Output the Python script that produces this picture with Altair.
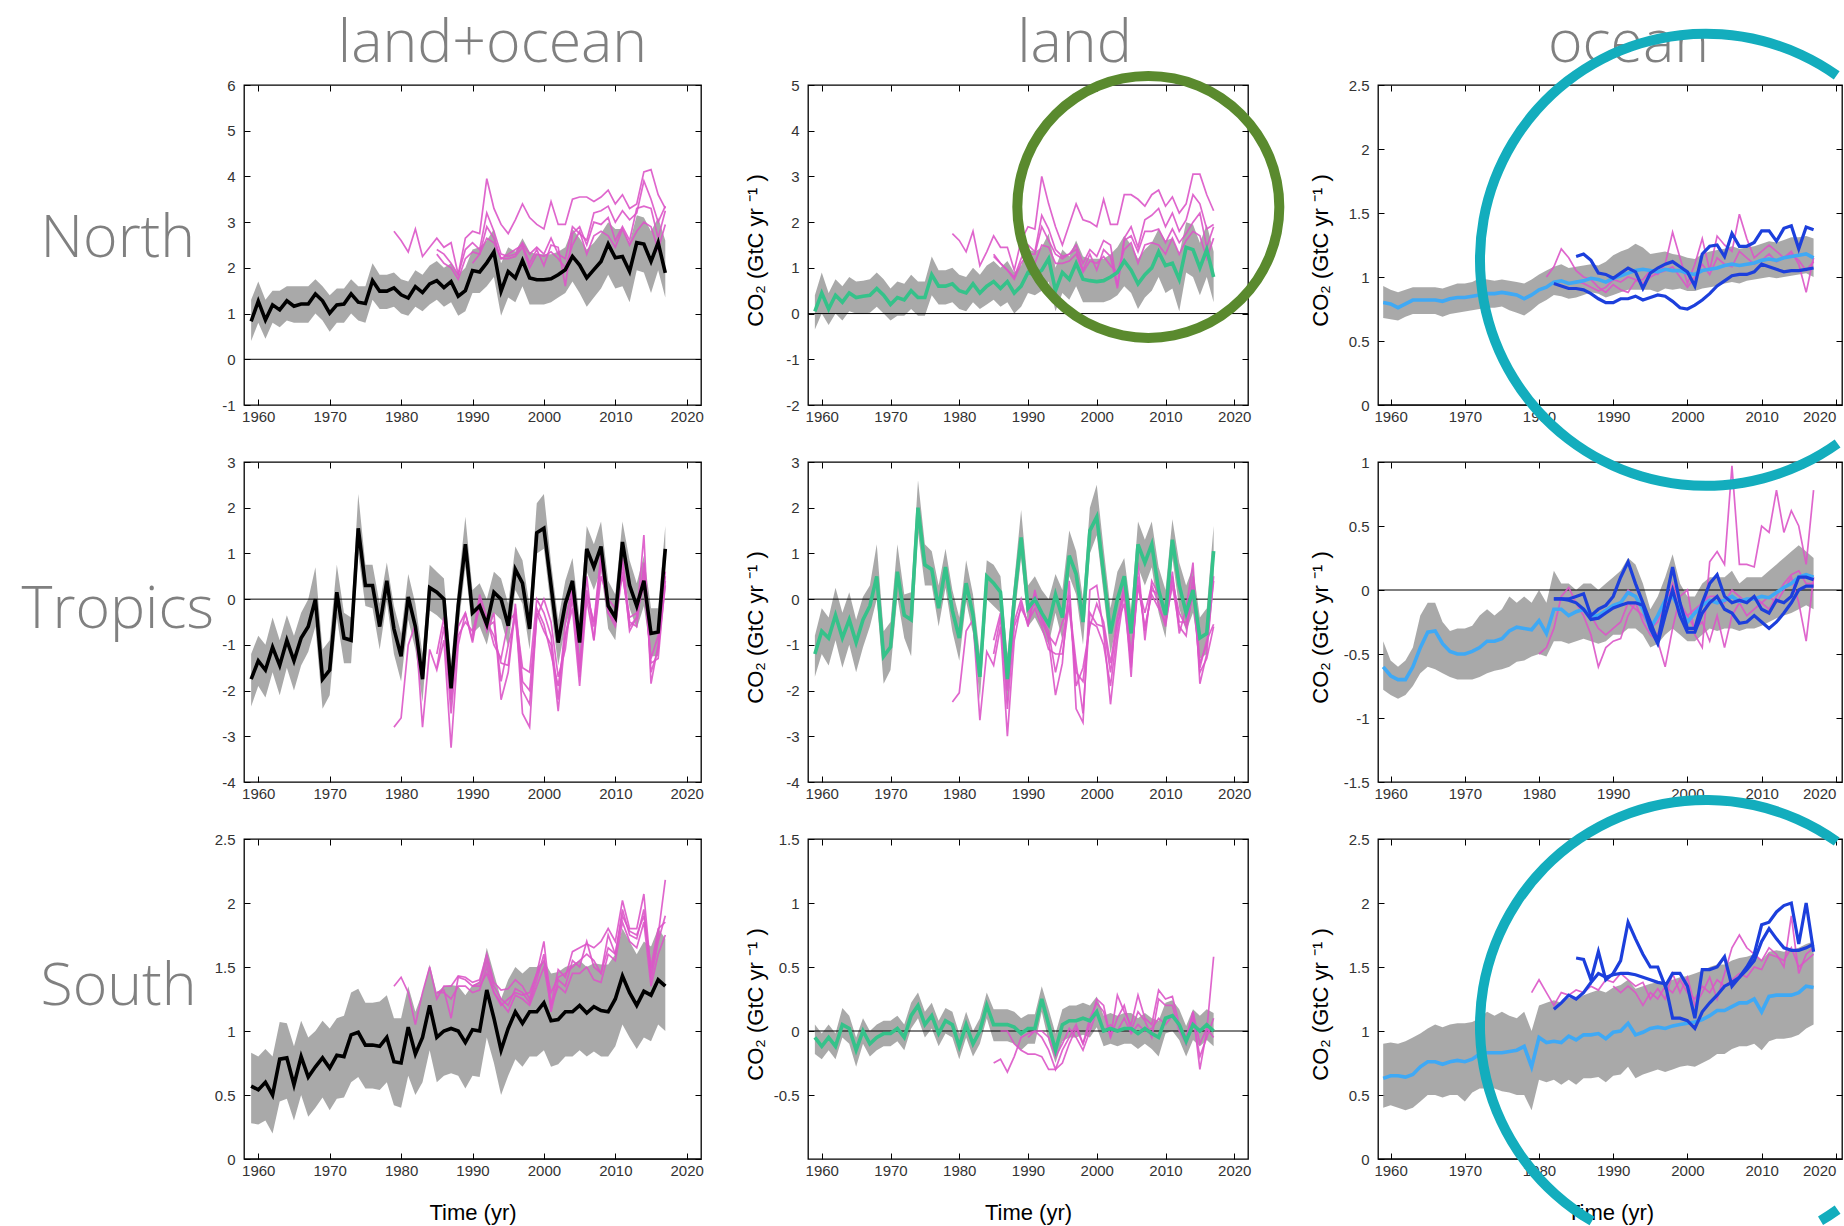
import altair as alt
import pandas as pd

# ---------------- data (GtC/yr), years 1959-2017 ----------------
YEARS_START = 1959
X_TICKS = [1960, 1970, 1980, 1990, 2000, 2010, 2020]
COL_TITLES = ["land+ocean", "land", "ocean"]
ROW_LABELS = ["North", "Tropics", "South"]
Y_TITLE = "CO\u2082  (GtC yr \u207b\u00b9 )"

# ---- North, land+ocean
N_LO_MAIN = [0.83,1.27,0.86,1.19,1.08,1.28,1.16,1.21,1.21,1.43, 1.28,1.01,1.19,1.21,1.43,1.25,1.22,1.72,1.49,1.49,
             1.56,1.41,1.34,1.59,1.46,1.65,1.72,1.57,1.70,1.38, 1.50,1.94,1.91,2.11,2.35,1.49,1.92,1.78,2.16,1.78,
             1.74,1.74,1.76,1.85,1.96,2.25,2.06,1.78,1.96,2.14, 2.52,2.22,2.25,1.92,2.55,2.52,2.14,2.55,1.89]
N_LO_HI = [1.3,1.7,1.3,1.5,1.5,1.6,1.6,1.6,1.6,1.75, 1.6,1.4,1.55,1.55,1.75,1.6,1.6,2.1,1.85,1.85,
           1.9,1.75,1.7,1.95,1.85,2.05,2.15,2.0,2.1,1.85, 2.0,2.4,2.45,2.6,2.85,2.1,2.45,2.35,2.65,2.35,
           2.3,2.3,2.3,2.35,2.45,2.85,2.65,2.4,2.55,2.75, 3.0,2.85,2.85,2.55,3.15,3.1,2.8,3.1,2.6]
N_LO_LO = [0.4,0.8,0.45,0.8,0.7,0.85,0.8,0.8,0.8,1.0, 0.85,0.6,0.8,0.8,1.0,0.85,0.8,1.3,1.1,1.1,
           1.15,1.0,0.95,1.15,1.05,1.2,1.3,1.15,1.25,0.95, 1.05,1.45,1.45,1.6,1.8,0.95,1.35,1.25,1.6,1.2,
           1.2,1.2,1.25,1.35,1.45,1.7,1.45,1.15,1.35,1.55, 1.85,1.55,1.6,1.25,1.95,1.9,1.45,1.95,1.35]
N_LO_MAG_START = [1979, 1985, 1985, 1990]
N_LO_MAG = [
    [2.8,2.6,2.35,2.85,2.25,2.45,2.65,2.45,2.55,1.85, 2.65,2.8,2.75,3.95,3.3,2.95,2.75,3.05,3.4,3.1,
     2.95,2.85,3.45,2.95,2.95,3.5,3.55,3.55,3.45,3.55, 3.7,3.4,3.6,3.3,3.4,4.1,4.15,3.6,3.3],
    [2.4,2.3,2.1,1.85,2.4,2.55,2.4,3.2,2.8,2.3, 2.25,2.3,2.55,2.3,2.45,2.3,2.65,2.3,2.2,2.9,
     2.75,2.6,3.2,3.25,3.35,3.0,3.25,3.05,3.2,3.9, 3.5,3.0,3.35],
    [2.3,2.1,2.0,1.75,2.2,2.35,2.3,2.9,2.65,2.2, 2.3,2.4,2.5,2.1,2.4,2.05,2.5,2.45,1.6,2.75,
     2.9,2.5,3.0,2.95,3.1,2.6,2.9,2.6,3.3,3.35, 3.3,2.65,3.25],
    [2.1,2.3,2.65,2.55,2.2,2.2,2.25,2.45,2.0,2.3, 2.25,2.35,2.2,2.0,2.5,2.8,2.3,2.7,2.8,2.7,
     2.45,2.85,2.5,2.8,3.0,2.9,2.4,2.95],
]

# ---- North, land
N_L_MAIN = [0.05,0.45,0.1,0.4,0.25,0.45,0.35,0.38,0.4,0.55, 0.4,0.2,0.35,0.3,0.5,0.35,0.35,0.85,0.6,0.6,
            0.65,0.5,0.45,0.65,0.45,0.6,0.7,0.55,0.7,0.45, 0.6,0.9,0.85,0.95,1.2,0.5,0.9,0.75,1.1,0.75,
            0.72,0.7,0.72,0.8,0.9,1.15,0.95,0.65,0.85,1.0, 1.35,1.05,1.1,0.75,1.45,1.4,1.0,1.4,0.8]
N_L_HI = [0.4,0.9,0.45,0.75,0.6,0.8,0.7,0.72,0.75,0.9, 0.75,0.55,0.7,0.65,0.85,0.7,0.7,1.25,0.95,0.95,
          1.0,0.85,0.8,1.0,0.85,1.05,1.15,1.0,1.15,0.9, 1.05,1.4,1.35,1.45,1.75,1.0,1.4,1.25,1.6,1.25,
          1.2,1.2,1.2,1.3,1.45,1.7,1.5,1.2,1.4,1.55, 1.85,1.6,1.65,1.3,2.0,1.95,1.55,1.95,1.35]
N_L_LO = [-0.35,0.0,-0.25,0.0,-0.15,0.05,0.0,0.0,0.02,0.15, 0.0,-0.15,-0.05,-0.05,0.1,-0.05,-0.05,0.4,0.2,0.2,
          0.25,0.1,0.05,0.25,0.1,0.2,0.3,0.15,0.25,0.0, 0.15,0.45,0.4,0.5,0.7,0.05,0.45,0.3,0.6,0.25,
          0.25,0.25,0.25,0.3,0.4,0.6,0.45,0.1,0.35,0.5, 0.8,0.45,0.55,0.05,0.9,0.8,0.4,0.8,0.25]
N_L_MAG_START = [1979, 1985, 1985, 1990]
N_L_MAG = [
    [1.75,1.6,1.35,1.8,1.05,1.35,1.7,1.45,1.45,0.95, 1.6,1.9,1.85,3.0,2.4,1.9,1.5,1.95,2.4,2.05,
     2.0,1.9,2.5,1.95,1.95,2.6,2.6,2.5,2.35,2.6, 2.7,2.35,2.55,2.2,2.4,3.05,3.05,2.6,2.25],
    [1.3,1.1,0.95,0.8,1.2,1.5,1.35,2.15,1.85,1.4, 1.25,1.3,1.5,1.1,1.4,1.25,1.6,1.5,0.6,1.65,
     1.9,1.45,2.05,2.15,2.3,1.9,2.2,1.8,2.05,2.6, 2.4,1.85,1.95],
    [1.25,1.1,0.95,0.75,1.1,1.3,1.3,1.9,1.6,1.3, 1.2,1.3,1.4,0.95,1.3,0.95,1.4,1.25,0.55,1.6,
     1.7,1.35,1.8,1.8,1.85,1.55,1.85,1.55,1.75,2.0, 2.2,1.45,1.9],
    [1.0,1.1,1.5,1.45,1.1,1.1,1.15,1.3,0.9,1.15, 1.1,1.25,1.05,0.9,1.4,1.55,1.1,1.5,1.55,1.5,
     1.3,1.65,1.3,1.6,1.8,1.7,1.2,1.65],
]

# ---- North, ocean
N_O_MAIN = [0.8,0.79,0.76,0.79,0.82,0.82,0.82,0.82,0.81,0.83, 0.84,0.84,0.85,0.86,0.87,0.87,0.88,0.87,0.86,0.83,
            0.86,0.90,0.92,0.96,0.97,0.95,0.96,0.97,0.99,0.98, 0.96,0.99,1.01,1.03,1.05,1.06,1.05,1.04,1.06,1.05,
            1.05,1.03,1.02,1.05,1.06,1.07,1.09,1.10,1.09,1.10, 1.11,1.13,1.14,1.13,1.15,1.16,1.17,1.18,1.15]
N_O_HI = [0.93,0.9,0.88,0.9,0.92,0.92,0.92,0.92,0.91,0.93, 0.95,0.95,0.96,0.99,0.98,0.97,0.98,0.97,0.96,0.95,
          0.98,1.02,1.05,1.08,1.1,1.07,1.08,1.09,1.1,1.09, 1.12,1.17,1.2,1.22,1.26,1.23,1.18,1.19,1.2,1.18,
          1.17,1.15,1.14,1.18,1.2,1.21,1.22,1.24,1.22,1.23, 1.24,1.26,1.28,1.27,1.29,1.31,1.31,1.32,1.3]
N_O_LO = [0.68,0.67,0.66,0.69,0.71,0.71,0.71,0.71,0.69,0.71, 0.72,0.73,0.74,0.75,0.76,0.76,0.77,0.74,0.72,0.7,
          0.74,0.79,0.82,0.86,0.85,0.83,0.84,0.86,0.88,0.87, 0.84,0.86,0.88,0.9,0.9,0.9,0.9,0.88,0.91,0.9,
          0.91,0.89,0.89,0.91,0.92,0.93,0.95,0.96,0.95,0.97, 0.98,0.99,1.0,0.99,1.0,1.01,1.02,1.03,1.0]
N_O_MAG_START = [1981, 1985]
N_O_MAG = [
    [1.0,1.08,1.22,1.15,1.05,1.0,0.98,0.92,0.88,0.94, 0.9,0.88,0.97,0.98,1.05,1.02,1.1,1.35,1.15,0.95,
     1.1,1.3,1.05,1.32,1.25,1.2,1.49,1.3,1.15,1.2, 1.25,1.2,1.15,1.2,1.1,0.88,1.15],
    [0.97,0.95,0.92,0.89,0.92,0.98,0.96,1.0,0.98,0.95, 1.0,1.03,1.05,1.08,1.0,0.92,1.0,1.1,1.02,1.15,
     1.1,1.08,1.2,1.15,1.1,1.13,1.18,1.12,1.15,1.18, 1.13,1.05,1.12],
]
N_O_BLUE_START = [1985, 1982]
N_O_BLUE = [
    [1.16,1.18,1.13,1.03,1.02,0.99,1.03,1.07,1.04,0.91, 1.03,1.07,1.1,1.12,1.08,1.04,0.93,1.18,1.24,1.25,
     1.16,1.34,1.24,1.24,1.27,1.36,1.36,1.28,1.38,1.4, 1.22,1.39,1.37],
    [0.95,0.93,0.91,0.91,0.9,0.87,0.83,0.8,0.8,0.83, 0.83,0.85,0.82,0.84,0.86,0.85,0.81,0.76,0.75,0.78,
     0.82,0.87,0.93,0.97,1.01,1.02,1.02,1.04,1.1,1.08, 1.06,1.04,1.05,1.05,1.06,1.07],
]

# ---- Tropics, land+ocean
T_LO_MAIN = [-1.75,-1.35,-1.55,-1.05,-1.45,-0.9,-1.35,-0.85,-0.6,0.0, -1.75,-1.55,0.15,-0.85,-0.9,1.55,0.3,0.3,-0.6,0.4,
             -0.65,-1.25,0.05,-0.6,-1.75,0.25,0.15,0.0,-1.95,-0.15, 1.2,-0.3,-0.15,-0.55,0.15,0.0,-0.58,0.65,0.35,-0.65,
             1.45,1.55,0.3,-0.95,-0.1,0.4,-0.95,1.1,0.7,1.15, -0.15,-0.4,1.25,0.3,-0.15,0.4,-0.75,-0.72,1.1]
T_LO_HI = [-1.2,-0.8,-1.0,-0.4,-0.9,-0.35,-0.8,-0.3,0.0,0.7, -1.1,-0.9,0.75,-0.3,-0.4,2.3,0.75,0.75,-0.1,0.8,
           -0.15,-0.75,0.55,-0.1,-1.2,0.75,0.6,0.45,-1.4,0.3, 1.8,0.2,0.35,0.0,0.6,0.45,-0.1,1.15,0.85,-0.15,
           2.1,2.3,0.8,-0.45,0.4,0.9,-0.4,1.6,1.2,1.7, 0.4,0.1,1.7,0.85,0.35,0.95,-0.2,-0.2,1.6]
T_LO_LO = [-2.35,-1.9,-2.15,-1.6,-2.1,-1.5,-2.0,-1.45,-1.15,-0.6, -2.4,-2.1,-0.4,-1.4,-1.4,1.0,-0.15,-0.2,-1.1,-0.05,
           -1.2,-1.8,-0.45,-1.1,-2.25,-0.25,-0.35,-0.5,-2.45,-0.65, 0.7,-0.75,-0.6,-1.0,-0.3,-0.45,-1.05,0.2,-0.1,-1.1,
           1.0,1.1,-0.2,-1.45,-0.6,-0.1,-1.45,0.6,0.2,0.65, -0.65,-0.9,0.75,-0.2,-0.65,-0.15,-1.25,-1.25,0.6]
T_LO_MAG_START = [1979, 1985, 1985, 1990]
T_LO_MAG = [
    [-2.8,-2.6,-1.0,-0.55,-2.8,-1.1,-1.55,-0.9,-3.25,-1.0, -0.3,-0.95,-0.1,-0.7,-0.3,-2.2,-1.6,-0.2,-2.5,-2.8,
     -0.3,-0.7,-1.0,-2.45,-0.8,-0.2,-1.9,0.0,-0.9,0.8, -0.3,-0.5,0.8,-0.7,-0.4,1.4,-1.85,-1.0,0.5],
    [-1.5,-0.6,-2.5,-0.8,-0.5,-0.7,-0.2,-0.5,-0.8,-1.4, -1.45,-0.1,-1.8,-2.0,-0.2,-0.55,-1.2,-1.9,-0.8,0.0,
     -1.6,0.2,-0.6,0.9,-0.1,-0.4,0.9,-0.5,-0.6,0.8, -1.6,-1.1,0.3],
    [-1.2,-0.4,-2.2,-0.6,-0.3,-0.9,0.1,-0.4,-1.0,-1.3, -0.5,-0.3,-1.5,-1.6,0.0,-0.3,-0.8,-2.2,-0.5,0.3,
     -1.7,0.5,-0.9,0.5,0.0,-0.2,0.5,-0.4,-0.3,0.3, -1.3,-0.8,0.6],
    [-0.8,0.0,-0.6,-0.5,-1.8,-1.0,-0.4,-2.0,-2.3,-0.4, 0.0,-0.5,-1.7,-1.1,0.2,-1.4,0.1,-0.5,1.0,-0.3,
     -0.6,0.6,-0.6,-0.4,0.6,-1.4,-1.3,0.4],
]

# ---- Tropics, land
T_L_MAIN = [-1.2,-0.7,-0.85,-0.35,-0.85,-0.45,-0.95,-0.45,-0.15,0.5, -1.25,-1.05,0.6,-0.35,-0.45,2.0,0.75,0.65,-0.2,0.7,
            -0.25,-0.85,0.35,-0.35,-1.7,0.5,0.35,0.15,-1.75,0.0, 1.35,-0.2,0.0,-0.3,-0.55,0.1,-0.4,0.95,0.55,-0.5,
            1.5,1.8,0.55,-0.75,0.0,0.5,-0.75,1.2,0.8,1.2, 0.2,-0.35,1.3,0.3,-0.3,0.2,-0.85,-0.75,1.05]
T_L_HI = [-0.8,-0.2,-0.4,0.25,-0.3,0.15,-0.45,0.05,0.3,1.2, -0.7,-0.5,1.2,0.1,0.15,2.6,1.2,1.05,0.3,1.1,
          0.2,-0.4,0.85,0.1,-1.2,0.85,0.75,0.5,-1.2,0.4, 1.95,0.3,0.5,0.2,0.0,0.55,0.2,1.5,1.05,0.0,
          2.0,2.5,1.1,-0.2,0.6,0.9,-0.25,1.7,1.3,1.7, 0.7,0.2,1.75,0.8,0.3,0.7,-0.4,-0.2,1.6]
T_L_LO = [-1.7,-1.2,-1.45,-0.9,-1.5,-1.0,-1.6,-1.05,-0.6,0.0, -1.85,-1.55,0.05,-0.85,-1.25,1.45,0.3,0.3,-0.6,0.25,
          -0.7,-1.35,-0.05,-0.75,-2.2,0.0,-0.15,-0.3,-2.35,-0.45, 0.9,-0.6,-0.4,-0.7,-1.0,-0.3,-0.9,0.5,0.1,-1.0,
          1.0,1.4,0.1,-1.2,-0.45,0.05,-1.2,0.7,0.3,0.7, -0.3,-0.85,0.9,-0.2,-0.7,-0.3,-1.3,-1.2,0.5]
T_L_MAG_START = [1979, 1985, 1985, 1990]
T_L_MAG = [
    [-2.25,-2.05,-0.7,-0.45,-2.65,-1.15,-1.45,-0.6,-3.0,-0.9, -0.1,-0.55,0.1,-0.35,-0.9,-2.1,-1.4,0.4,-2.4,-2.7,
     0.2,0.3,-0.7,-2.3,-0.9,0.15,-1.7,0.8,-0.9,0.4, 0.1,-0.4,0.6,-0.75,-0.2,0.8,-1.85,-1.2,0.5],
    [-1.2,-0.4,-2.4,-0.6,-0.2,-0.5,-0.2,-0.6,-1.1,-1.2, -1.2,-0.1,-1.4,-2.5,-0.3,-0.55,-0.6,-1.6,-0.5,-0.1,
     -1.4,0.3,-0.6,0.1,-0.2,-0.5,0.3,-0.6,-0.8,0.3, -1.6,-1.3,-0.6],
    [-0.9,-0.3,-2.0,-0.5,0.0,-0.6,0.2,-0.5,-0.8,-1.0, -0.5,-0.2,-1.6,-1.8,-0.5,-0.6,-1.0,-1.9,-0.7,0.4,
     -1.5,0.5,-0.7,0.2,0.1,-0.3,0.5,-0.5,-0.5,0.5, -1.4,-1.0,0.4],
    [-0.3,-0.1,-0.4,-0.7,-1.6,-0.9,0.1,-1.9,-1.5,-0.6, -0.1,-0.5,-1.4,-0.4,0.2,-1.2,0.3,-0.3,0.3,-0.1,
     -0.6,0.4,-0.3,-0.6,0.1,-1.5,-0.9,-0.55],
]

# ---- Tropics, ocean
T_O_MAIN = [-0.6,-0.67,-0.7,-0.7,-0.6,-0.45,-0.33,-0.32,-0.42,-0.48, -0.5,-0.5,-0.48,-0.45,-0.4,-0.4,-0.38,-0.32,-0.29,-0.3,
            -0.31,-0.24,-0.34,-0.15,-0.15,-0.2,-0.17,-0.15,-0.2,-0.2, -0.16,-0.12,-0.1,-0.02,-0.05,-0.15,-0.3,-0.2,-0.08,-0.05,
            -0.15,-0.25,-0.18,-0.12,-0.08,-0.1,-0.08,-0.05,-0.09,-0.07, -0.07,-0.05,-0.06,-0.02,0.02,0.05,0.1,0.12,0.1]
T_O_HI = [-0.4,-0.55,-0.6,-0.55,-0.45,-0.2,-0.1,-0.1,-0.25,-0.32, -0.3,-0.3,-0.28,-0.2,-0.15,-0.2,-0.15,-0.05,-0.1,-0.05,
          -0.1,0.0,-0.1,0.15,0.05,0.05,0.0,0.05,0.05,0.0, 0.05,0.1,0.15,0.25,0.2,0.05,-0.15,-0.05,0.1,0.28,
          0.05,-0.05,-0.05,0.05,0.1,0.1,0.1,0.15,0.05,0.1, 0.1,0.1,0.15,0.2,0.25,0.3,0.35,0.3,0.25]
T_O_LO = [-0.78,-0.82,-0.85,-0.82,-0.75,-0.65,-0.6,-0.62,-0.65,-0.68, -0.7,-0.7,-0.7,-0.68,-0.65,-0.63,-0.62,-0.6,-0.56,-0.55,
          -0.52,-0.5,-0.52,-0.4,-0.4,-0.42,-0.4,-0.38,-0.4,-0.42, -0.4,-0.35,-0.35,-0.3,-0.3,-0.35,-0.45,-0.42,-0.35,-0.3,
          -0.35,-0.4,-0.4,-0.35,-0.3,-0.32,-0.3,-0.3,-0.32,-0.3, -0.3,-0.28,-0.25,-0.22,-0.2,-0.18,-0.15,-0.12,-0.15]
T_O_MAG_START = [1980, 1985, 1990]
T_O_MAG = [
    [-0.5,-0.45,-0.3,-0.05,0.02,-0.1,-0.2,-0.35,-0.6,-0.45, -0.4,-0.38,-0.2,-0.1,-0.25,-0.35,-0.4,-0.6,-0.3,-0.05,
     0.0,-0.35,-0.45,0.22,0.3,0.2,0.97,0.2,0.2,0.18, 0.5,0.45,0.78,0.45,0.62,0.5,0.2,0.78],
    [-0.1,-0.15,-0.2,-0.3,-0.35,-0.3,-0.25,-0.1,-0.15,-0.2, -0.3,-0.35,-0.15,0.05,-0.1,-0.2,-0.3,-0.25,-0.4,-0.2,
     -0.45,-0.2,-0.1,-0.2,-0.15,-0.1,-0.05,-0.1,0.0,0.1, -0.1,-0.4,0.1],
    [-0.15,-0.1,0.0,-0.05,-0.15,-0.3,-0.25,-0.1,0.0,-0.15, -0.2,-0.15,-0.1,-0.05,-0.05,-0.1,0.0,-0.05,-0.1,-0.05,
     -0.1,-0.15,-0.05,0.05,0.12,0.15,0.05,0.05],
]
T_O_BLUE_START = [1982, 1982]
T_O_BLUE = [
    [-0.07,-0.07,-0.07,-0.05,-0.03,-0.2,-0.15,-0.12,-0.05,0.1, 0.22,0.05,-0.1,-0.25,-0.4,-0.1,0.18,-0.1,-0.3,-0.3,
     -0.1,0.05,0.12,-0.05,-0.1,-0.08,-0.1,-0.05,-0.15,-0.18, -0.08,-0.1,-0.05,0.1,0.1,0.08],
    [-0.07,-0.07,-0.08,-0.1,-0.15,-0.23,-0.22,-0.18,-0.14,-0.12, -0.1,-0.1,-0.12,-0.3,-0.42,-0.2,0.0,-0.2,-0.33,-0.33,
     -0.18,-0.1,-0.05,-0.15,-0.18,-0.26,-0.25,-0.2,-0.25,-0.3, -0.25,-0.18,-0.1,0.0,0.03,0.03],
]

# ---- South, land+ocean
S_LO_MAIN = [0.57,0.54,0.6,0.5,0.78,0.79,0.58,0.8,0.64,0.72, 0.79,0.71,0.81,0.8,0.97,0.99,0.89,0.89,0.88,0.95,
             0.76,0.75,1.03,0.82,0.95,1.2,0.95,1.0,1.02,1.0, 0.91,1.01,1.0,1.32,1.1,0.85,1.02,1.15,1.06,1.15,
             1.15,1.22,1.08,1.09,1.15,1.15,1.2,1.14,1.19,1.16, 1.15,1.25,1.43,1.3,1.2,1.31,1.28,1.4,1.35]
S_LO_HI = [0.83,0.8,0.86,0.8,1.07,1.06,0.88,1.08,0.95,1.0, 1.08,1.02,1.1,1.12,1.3,1.33,1.22,1.22,1.23,1.28,
           1.1,1.1,1.35,1.15,1.3,1.52,1.3,1.35,1.36,1.35, 1.28,1.36,1.38,1.65,1.45,1.25,1.4,1.5,1.45,1.5,
           1.5,1.55,1.45,1.46,1.5,1.52,1.55,1.5,1.53,1.52, 1.52,1.6,1.8,1.7,1.6,1.7,1.66,1.8,1.72]
S_LO_LO = [0.28,0.27,0.3,0.2,0.45,0.47,0.3,0.5,0.33,0.4, 0.48,0.38,0.47,0.48,0.6,0.64,0.55,0.55,0.54,0.6,
           0.42,0.4,0.65,0.5,0.6,0.85,0.6,0.65,0.67,0.65, 0.55,0.65,0.64,0.95,0.75,0.5,0.65,0.78,0.72,0.8,
           0.8,0.85,0.72,0.74,0.8,0.8,0.85,0.8,0.84,0.8, 0.8,0.88,1.05,0.95,0.86,0.95,0.92,1.05,1.0]
S_LO_MAG_START = [1979, 1985, 1985, 1990]
S_LO_MAG = [
    [1.35,1.42,1.3,1.05,1.3,1.5,1.25,1.35,1.35,1.43, 1.42,1.38,1.4,1.6,1.38,1.32,1.33,1.4,1.35,1.25,
     1.45,1.7,1.2,1.48,1.42,1.62,1.65,1.68,1.65,1.7, 1.8,1.7,2.02,1.8,1.8,2.07,1.45,1.75,2.18],
    [1.3,1.32,1.1,1.42,1.4,1.35,1.38,1.55,1.35,1.25, 1.2,1.33,1.3,1.22,1.4,1.6,1.15,1.4,1.35,1.55,
     1.5,1.7,1.5,1.45,1.75,1.6,1.95,1.75,1.72,1.95, 1.4,1.7,1.9],
    [1.3,1.3,1.25,1.35,1.35,1.3,1.32,1.5,1.3,1.22, 1.15,1.28,1.25,1.2,1.35,1.5,1.2,1.35,1.3,1.45,
     1.45,1.5,1.4,1.38,1.6,1.55,1.85,1.7,1.65,1.85, 1.35,1.6,1.75],
    [1.35,1.35,1.45,1.3,1.2,1.25,1.3,1.28,1.3,1.45, 1.55,1.3,1.42,1.45,1.5,1.55,1.6,1.55,1.45,1.65,
     1.6,1.9,1.78,1.75,1.9,1.5,1.8,1.85],
]

# ---- South, land
S_L_MAIN = [-0.05,-0.12,-0.05,-0.12,0.05,0.02,-0.15,0.0,-0.1,-0.05, -0.02,-0.02,0.02,-0.05,0.12,0.2,0.05,0.12,-0.02,0.08,
            0.05,-0.12,0.05,-0.1,0.0,0.2,0.05,0.05,0.05,0.03, -0.02,0.02,0.02,0.25,0.05,-0.15,0.05,0.08,0.08,0.1,
            0.08,0.15,0.0,0.02,0.0,0.02,0.02,-0.02,0.02,-0.02, -0.05,0.1,0.12,0.05,-0.08,0.05,0.0,0.05,0.0]
S_L_HI = [0.05,-0.02,0.05,-0.02,0.18,0.12,-0.05,0.1,0.0,0.05, 0.08,0.08,0.12,0.05,0.22,0.3,0.15,0.22,0.08,0.18,
          0.15,-0.02,0.15,0.0,0.1,0.3,0.17,0.17,0.17,0.15, 0.1,0.13,0.13,0.35,0.17,-0.02,0.17,0.2,0.2,0.22,
          0.2,0.27,0.12,0.14,0.12,0.14,0.14,0.1,0.14,0.1, 0.08,0.22,0.24,0.17,0.04,0.17,0.12,0.17,0.14]
S_L_LO = [-0.18,-0.22,-0.15,-0.22,-0.05,-0.1,-0.28,-0.1,-0.2,-0.15, -0.12,-0.12,-0.08,-0.15,0.02,0.1,-0.05,0.02,-0.12,-0.02,
          -0.05,-0.22,-0.05,-0.2,-0.1,0.1,-0.08,-0.08,-0.08,-0.1, -0.15,-0.1,-0.1,0.15,-0.08,-0.25,-0.08,-0.05,-0.05,-0.03,
          -0.05,0.03,-0.12,-0.1,-0.12,-0.1,-0.1,-0.14,-0.1,-0.14, -0.2,-0.02,0.0,-0.07,-0.2,-0.07,-0.12,-0.07,-0.12]
S_L_MAG_START = [1985, 1986, 1990]
S_L_MAG = [
    [-0.25,-0.22,-0.32,-0.2,-0.05,-0.02,0.0,-0.05,-0.15,-0.3, -0.15,-0.05,0.05,-0.1,0.05,0.25,0.2,-0.05,0.28,0.15,
     0.05,0.28,0.1,0.05,0.32,0.25,0.27,0.05,-0.1,0.15, -0.3,0.0,0.58],
    [0.0,0.0,-0.1,-0.15,-0.18,-0.18,-0.2,-0.3,-0.3,-0.25, -0.1,0.02,-0.1,0.1,0.22,0.15,-0.05,0.1,0.2,0.0,
     0.15,0.08,-0.05,0.25,0.2,0.2,0.0,-0.1,0.1,-0.2, -0.05,0.1],
    [-0.05,0.0,0.0,-0.05,-0.2,-0.1,0.02,-0.05,-0.15,0.0, 0.15,0.0,0.05,0.0,0.1,-0.02,0.05,0.0,0.02,0.1,
     0.05,0.12,0.05,-0.05,0.15,-0.1,0.02,-0.05],
]

# ---- South, ocean
S_O_MAIN = [0.63,0.65,0.65,0.64,0.66,0.72,0.76,0.76,0.74,0.76, 0.77,0.76,0.78,0.82,0.83,0.83,0.83,0.84,0.85,0.88,
            0.72,0.95,0.91,0.92,0.91,0.96,0.93,0.97,0.97,0.98, 0.94,0.99,1.0,1.06,0.97,0.99,1.02,1.03,1.02,1.04,
            1.05,1.06,1.07,1.09,1.12,1.16,1.16,1.19,1.22,1.22, 1.25,1.15,1.27,1.28,1.28,1.28,1.3,1.35,1.34]
S_O_HI = [0.9,0.91,0.9,0.92,0.95,0.98,1.02,1.05,1.03,1.05, 1.06,1.06,1.07,1.1,1.15,1.12,1.15,1.12,1.1,1.15,
          1.0,1.2,1.22,1.24,1.22,1.26,1.25,1.28,1.3,1.32, 1.3,1.34,1.36,1.4,1.33,1.35,1.37,1.38,1.38,1.4,
          1.42,1.43,1.45,1.47,1.5,1.52,1.52,1.55,1.57,1.58, 1.6,1.55,1.62,1.63,1.62,1.63,1.65,1.68,1.7]
S_O_LO = [0.4,0.42,0.4,0.38,0.4,0.45,0.5,0.5,0.48,0.5, 0.5,0.45,0.52,0.55,0.55,0.55,0.53,0.52,0.5,0.5,
          0.38,0.62,0.6,0.62,0.58,0.62,0.58,0.63,0.63,0.64, 0.6,0.65,0.66,0.72,0.63,0.66,0.68,0.7,0.68,0.7,
          0.72,0.73,0.72,0.75,0.78,0.82,0.82,0.86,0.88,0.88, 0.9,0.85,0.92,0.94,0.94,0.95,0.97,1.02,1.05]
S_O_MAG_START = [1979, 1990]
S_O_MAG = [
    [1.3,1.4,1.3,1.2,1.3,1.28,1.32,1.3,1.35,1.32, 1.4,1.38,1.45,1.4,1.35,1.38,1.25,1.33,1.25,1.45,
     1.3,1.42,1.2,1.3,1.42,1.25,1.45,1.65,1.75,1.65, 1.6,1.55,1.65,1.6,1.5,1.9,1.45,1.6,1.65],
    [1.35,1.3,1.35,1.3,1.2,1.3,1.25,1.35,1.3,1.4, 1.3,1.25,1.35,1.3,1.4,1.35,1.4,1.45,1.42,1.5,
     1.48,1.6,1.58,1.55,1.65,1.5,1.55,1.6],
]
S_O_BLUE_START = [1985, 1982]
S_O_BLUE = [
    [1.57,1.56,1.4,1.62,1.4,1.45,1.55,1.85,1.72,1.6, 1.5,1.5,1.35,1.45,1.45,1.35,1.1,1.48,1.48,1.5,
     1.58,1.35,1.42,1.5,1.6,1.83,1.85,1.93,1.98,2.0, 1.68,2.0,1.62],
    [1.17,1.22,1.28,1.25,1.3,1.38,1.45,1.42,1.44,1.45, 1.45,1.44,1.42,1.4,1.38,1.37,1.1,1.1,1.08,1.02,
     1.15,1.22,1.28,1.35,1.38,1.42,1.48,1.55,1.7,1.8, 1.72,1.65,1.63,1.63,1.65,1.68],
]

# highlight rings (annotation): centre year / value in the host panel's data space
CIRCLE_YEAR = [2007.5, 2002.5, 2002.5]
CIRCLE_VALUE = [8.58, 2.58, 1.04]

# ---------------- styling ----------------
FONT = "Liberation Sans"
TITLE_FONT = "Open Sans"
TITLE_SIZE = 59
H = 320
WIDTHS = [457, 440, 464]
X_DOMAINS = [[1958, 2022], [1958, 2022], [1958.3, 2020.83]]
GAPS = [107, 130]
GRAY = "#9a9a9a"
MAGENTA = "#dc55c8"
DARKBLUE = "#1c3fdc"
COLORS = ["#000000", "#35c28a", "#3fa9f5"]
GREEN_RING = "#5a8a2e"
TEAL_RING = "#13adbd"

LABEL_EXPR = "datum.value < 0 ? '-' + format(-datum.value, '.1~f') : format(datum.value, '.1~f')"


def series_df(starts, lists, prefix):
    rows = []
    for k, (st, vals) in enumerate(zip(starts, lists)):
        for i, v in enumerate(vals):
            rows.append({"year": st + i, "value": v, "series": f"{prefix}{k}"})
    return pd.DataFrame(rows)


def panel(row, col, main, lo, hi, ydom, yticks, mag_starts, mags,
          blue_starts=None, blues=None, rings=None):
    W = WIDTHS[col]
    years = list(range(YEARS_START, YEARS_START + len(main)))
    xscale = alt.Scale(domain=X_DOMAINS[col], nice=False, zero=False)
    yscale = alt.Scale(domain=ydom, nice=False, zero=False)

    xaxis_kw = dict(values=X_TICKS, format="d", grid=True, gridDash=[6, H - 12, 6],
                    gridColor="black", gridWidth=1, ticks=False, tickSize=0, domain=False,
                    labelPadding=4, labelFontSize=15, labelFont=FONT, labelColor="#333",
                    labelFlush=(9 if col == 2 else False), labelOverlap=False)
    if row == 0:
        xaxis_kw.update(title=COL_TITLES[col], titleFont=TITLE_FONT, titleFontSize=TITLE_SIZE,
                        titleFontWeight=300, titleColor="#808080", titleAlign="center",
                        titleBaseline="alphabetic", titleAnchor="start",
                        titleX=[248, 266, 250][col], titleY=-(H + 24))
    elif row == 2:
        xaxis_kw.update(title="Time (yr)", titleFont=FONT, titleFontSize=22,
                        titleFontWeight="normal", titleColor="black", titleY=53,
                        titleBaseline="middle")
    else:
        xaxis_kw.update(title="")
    xaxis = alt.Axis(**xaxis_kw)

    yaxis_kw = dict(values=yticks, labelExpr=LABEL_EXPR, grid=True, gridDash=[6, W - 12, 6],
                    gridColor="black", gridWidth=1, ticks=False, tickSize=0, domain=False,
                    labelPadding=9, labelFontSize=15, labelFont=FONT, labelColor="#333",
                    labelFlush=False, labelOverlap=False)
    if col == 0:
        yaxis_kw.update(title=ROW_LABELS[row], titleAngle=0, titleAlign="left",
                        titleBaseline="alphabetic", titleX=[-204, -223, -204][row],
                        titleY=[171, 165, 165][row], titleFont=TITLE_FONT, titleFontWeight=300,
                        titleFontSize=TITLE_SIZE, titleColor="#808080")
    else:
        yaxis_kw.update(title=Y_TITLE, titleAngle=270, titleAlign="center",
                        titleBaseline="bottom", titleX=[-41, -46][col - 1], titleY=165,
                        titleFont=FONT, titleFontWeight="normal", titleFontSize=22,
                        titleColor="black")
    yaxis = alt.Axis(**yaxis_kw)

    X = alt.X("year:Q", scale=xscale, axis=xaxis)
    Y = alt.Y("value:Q", scale=yscale, axis=yaxis)

    band_df = pd.DataFrame({"year": years, "lo": lo, "hi": hi})
    band = alt.Chart(band_df).mark_area(color=GRAY, opacity=0.85).encode(
        x=X, y=alt.Y("lo:Q", scale=yscale, axis=yaxis), y2="hi:Q")
    zero = alt.Chart(pd.DataFrame({"value": [0]})).mark_rule(
        color="black", strokeWidth=1).encode(y=Y)
    mag = alt.Chart(series_df(mag_starts, mags, "m")).mark_line(
        color=MAGENTA, strokeWidth=1.7, opacity=0.9).encode(x=X, y=Y, detail="series:N")
    main_line = alt.Chart(pd.DataFrame({"year": years, "value": main})).mark_line(
        color=COLORS[col], strokeWidth=3.6).encode(x=X, y=Y)
    layers = [band, zero, mag, main_line]
    if blues:
        layers.append(alt.Chart(series_df(blue_starts, blues, "b")).mark_line(
            color=DARKBLUE, strokeWidth=3.2).encode(x=X, y=Y, detail="series:N"))
    if rings:
        for idx, color, radius, arcs in rings:
            cdf = pd.DataFrame({"year": [CIRCLE_YEAR[idx]], "value": [CIRCLE_VALUE[idx]]})
            for th0, th1 in arcs:
                layers.append(alt.Chart(cdf).mark_arc(color=color, opacity=1).encode(
                    x=X, y=Y, theta=alt.value(th0), theta2=alt.value(th1),
                    radius=alt.value(radius + 5), radius2=alt.value(radius - 5)))
    return alt.layer(*layers).properties(width=W, height=H)


def spacer(w):
    return alt.Chart(pd.DataFrame({"v": [0]})).mark_point(opacity=0).encode(
        x=alt.X("v:Q", axis=None), y=alt.Y("v:Q", axis=None)
    ).properties(width=w, height=H, view=alt.ViewBackground(stroke="transparent"))


cells = [
    panel(0, 0, N_LO_MAIN, N_LO_LO, N_LO_HI, [-1, 6], [-1, 0, 1, 2, 3, 4, 5, 6], N_LO_MAG_START, N_LO_MAG),
    spacer(GAPS[0]),
    panel(0, 1, N_L_MAIN, N_L_LO, N_L_HI, [-2, 5], [-2, -1, 0, 1, 2, 3, 4, 5], N_L_MAG_START, N_L_MAG),
    spacer(GAPS[1]),
    panel(0, 2, N_O_MAIN, N_O_LO, N_O_HI, [0, 2.5], [0, 0.5, 1, 1.5, 2, 2.5], N_O_MAG_START, N_O_MAG,
          N_O_BLUE_START, N_O_BLUE),

    panel(1, 0, T_LO_MAIN, T_LO_LO, T_LO_HI, [-4, 3], [-4, -3, -2, -1, 0, 1, 2, 3], T_LO_MAG_START, T_LO_MAG),
    spacer(GAPS[0]),
    panel(1, 1, T_L_MAIN, T_L_LO, T_L_HI, [-4, 3], [-4, -3, -2, -1, 0, 1, 2, 3], T_L_MAG_START, T_L_MAG,
          rings=[(0, GREEN_RING, 131, [(0.0, 6.2832)])]),
    spacer(GAPS[1]),
    panel(1, 2, T_O_MAIN, T_O_LO, T_O_HI, [-1.5, 1], [-1.5, -1, -0.5, 0, 0.5, 1], T_O_MAG_START, T_O_MAG,
          T_O_BLUE_START, T_O_BLUE, rings=[(1, TEAL_RING, 226, [(2.52, 6.90)])]),

    panel(2, 0, S_LO_MAIN, S_LO_LO, S_LO_HI, [0, 2.5], [0, 0.5, 1, 1.5, 2, 2.5], S_LO_MAG_START, S_LO_MAG),
    spacer(GAPS[0]),
    panel(2, 1, S_L_MAIN, S_L_LO, S_L_HI, [-1, 1.5], [-0.5, 0, 0.5, 1, 1.5], S_L_MAG_START, S_L_MAG),
    spacer(GAPS[1]),
    panel(2, 2, S_O_MAIN, S_O_LO, S_O_HI, [0, 2.5], [0, 0.5, 1, 1.5, 2, 2.5], S_O_MAG_START, S_O_MAG,
          S_O_BLUE_START, S_O_BLUE, rings=[(2, TEAL_RING, 226, [(2.52, 2.61), (3.67, 6.90)])]),
]

chart = alt.concat(*cells, columns=5, spacing={"row": 57, "column": 0}, bounds="flush").properties(
    padding={"left": 20, "top": 13, "right": 0, "bottom": 0},
    background="white",
).configure_view(stroke="black", strokeWidth=1.3)

chart.save("out.html", embed_options={"renderer": "svg", "actions": False})
